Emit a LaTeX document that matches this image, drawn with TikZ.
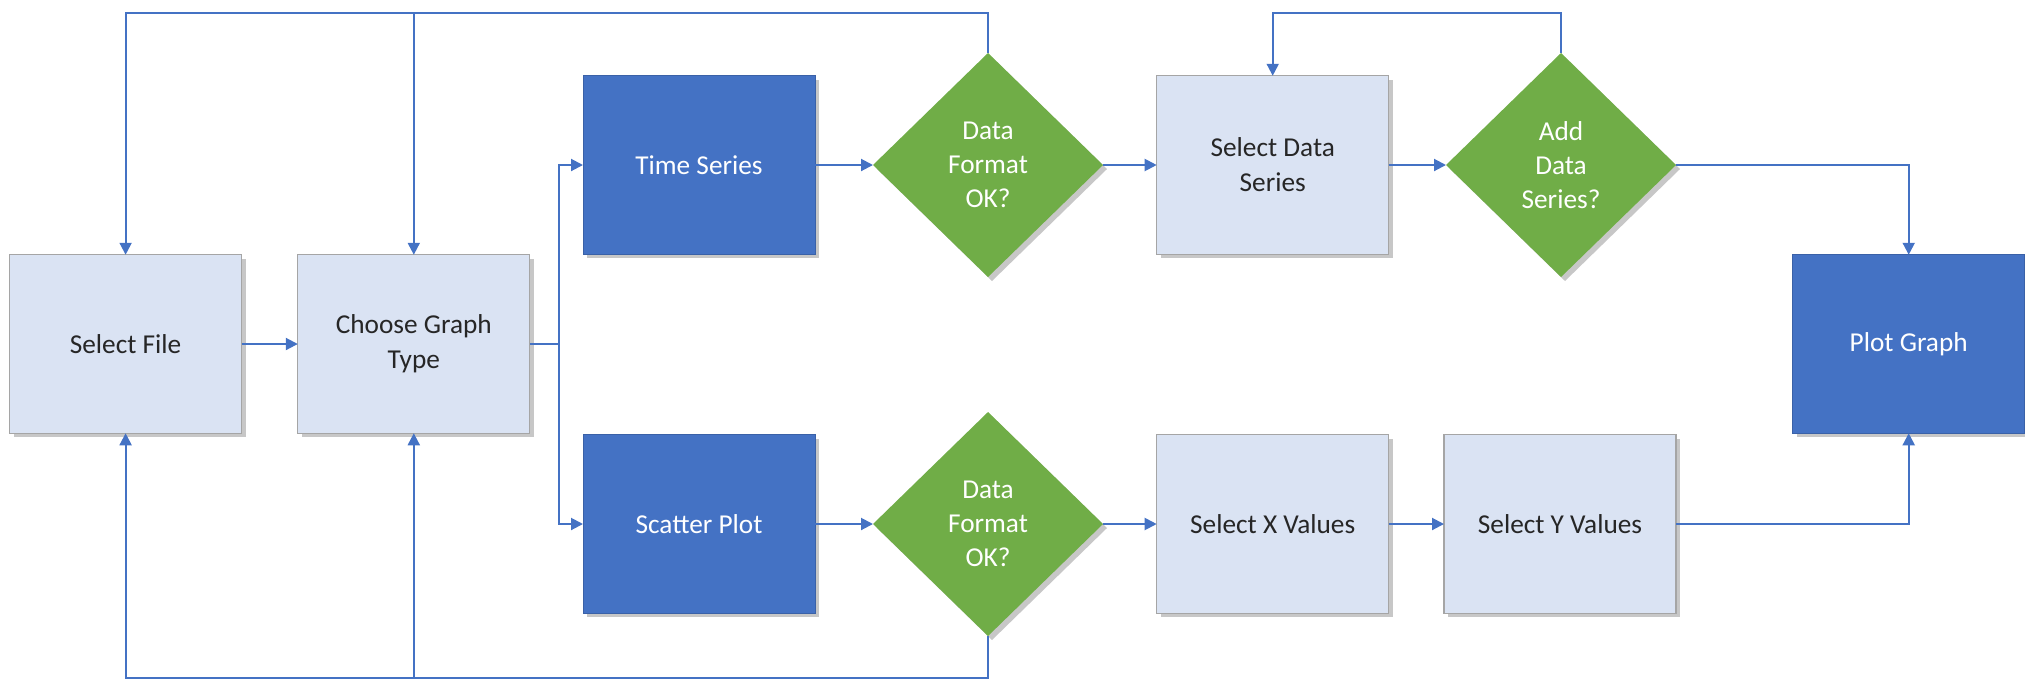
\documentclass[tikz,border=0pt]{standalone}
\usepackage{fontspec}
\setmainfont{Carlito}
\usetikzlibrary{arrows.meta,shapes.geometric,shadows}
\definecolor{lnblue}{HTML}{4472C4}
\definecolor{darkbox}{HTML}{4472C4}
\definecolor{lightbox}{HTML}{DAE3F3}
\definecolor{lightborder}{HTML}{A5A5A5}
\definecolor{decgreen}{HTML}{70AD47}
\definecolor{txtdark}{HTML}{262626}
\tikzset{
  base/.style={minimum width=232pt, minimum height=178.5pt, inner sep=0pt, outer sep=0pt,
    align=center, font=\fontsize{27.3}{35}\selectfont,
    drop shadow={shadow xshift=4pt, shadow yshift=-4pt, fill=black, opacity=0.22}},
  lightnode/.style={base, rectangle, fill=lightbox, draw=lightborder, line width=1.2pt, text=txtdark},
  darknode/.style={base, rectangle, fill=darkbox, draw=darkbox!85!black, line width=0.8pt, text=white},
  decision/.style={diamond, minimum width=230pt, minimum height=224pt, inner sep=0pt, outer sep=0pt,
    fill=decgreen, text=white, align=center, font=\fontsize{27.3}{34}\selectfont,
    drop shadow={shadow xshift=4pt, shadow yshift=-4pt, fill=black, opacity=0.22}},
  conn/.style={draw=lnblue, line width=2pt},
  arr/.style={conn, -{Triangle[length=12pt, width=12pt]}}
}
\begin{document}
\begin{tikzpicture}[x=1pt, y=-1pt]
\useasboundingbox (0,0) rectangle (2025,681);
% nodes
\node[lightnode] (sf)  at (125.6,344) {Select File};
\node[lightnode] (cgt) at (413.8,344) {Choose Graph\\Type};
\node[darknode]  (ts)  at (699,165) {Time Series};
\node[decision]  (d1)  at (988,165) {Data\\Format\\OK?};
\node[lightnode] (sds) at (1272.7,165) {Select Data\\Series};
\node[decision]  (d2)  at (1561,165) {Add\\Data\\Series?};
\node[darknode]  (pg)  at (1908.7,344) {Plot Graph};
\node[darknode]  (sp)  at (699,524) {Scatter Plot};
\node[decision]  (d3)  at (988,524) {Data\\Format\\OK?};
\node[lightnode] (sx)  at (1272.7,524) {Select X Values};
\node[lightnode] (sy)  at (1560,524) {Select Y Values};
% helper coordinates
\coordinate (topy) at (0,12.5);
\coordinate (boty) at (0,678);
\coordinate (br) at (558.7,344);
% connectors
\draw[arr] (sf.east) -- (cgt.west);
\draw[conn] (cgt.east) -- (br);
\draw[arr] (br) |- (ts.west);
\draw[arr] (br) |- (sp.west);
\draw[arr] (ts.east) -- (d1.west);
\draw[arr] (d1.east) -- (sds.west);
\draw[arr] (sds.east) -- (d2.west);
\draw[arr] (sp.east) -- (d3.west);
\draw[arr] (d3.east) -- (sx.west);
\draw[arr] (sx.east) -- (sy.west);
\draw[arr] (d2.east) -| (pg.north);
\draw[arr] (sy.east) -| (pg.south);
% top feedback loop
\draw[arr] (d1.north) -- (d1.north |- topy) -| (sf.north);
\draw[arr] (cgt.north |- topy) -- (cgt.north);
% bottom feedback loop
\draw[arr] (d3.south) -- (d3.south |- boty) -| (sf.south);
\draw[arr] (cgt.south |- boty) -- (cgt.south);
% add data series loop
\draw[arr] (d2.north) -- (d2.north |- topy) -| (sds.north);
\end{tikzpicture}
\end{document}
